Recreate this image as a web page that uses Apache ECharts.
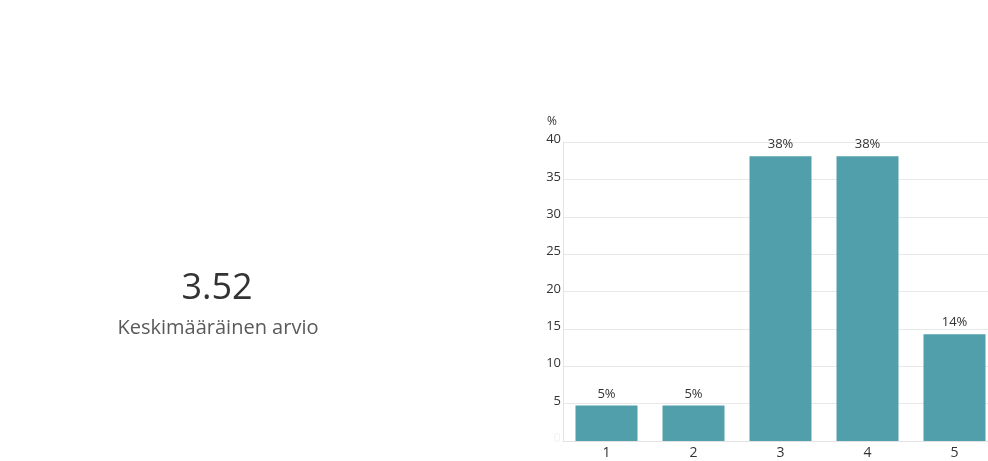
<!DOCTYPE html>
<html>
<head>
<meta charset="utf-8">
<script src="https://cdn.jsdelivr.net/npm/echarts@6/dist/echarts.min.js"></script>
<style>
  html, body { margin: 0; padding: 0; background: #fff; }
  #chart { width: 988px; height: 461px; }
</style>
</head>
<body>
<div id="chart"></div>
<script>
// Rating scale 1–5 and the share of answers for each rating (%)
const ratings = ['1', '2', '3', '4', '5'];
const shares = [4.76, 4.76, 38.1, 38.1, 14.29];
const averageValue = '3.52';
const averageLabel = 'Keskimääräinen arvio';
const yTicks = [0, 5, 10, 15, 20, 25, 30, 35, 40];

const font = '"Open Sans", "Noto Sans", sans-serif';
const chart = echarts.init(document.getElementById('chart'), null, { renderer: 'canvas' });

chart.setOption({
  animation: false,
  backgroundColor: '#ffffff',
  title: [
    {
      text: averageValue,
      left: 212, top: 266, textAlign: 'center',
      textStyle: { fontFamily: font, fontSize: 36, fontWeight: 'normal', color: '#333333' }
    },
    {
      text: averageLabel,
      left: 213, top: 313, textAlign: 'center',
      textStyle: { fontFamily: font, fontSize: 20, fontWeight: 'normal', color: '#5a5a5a' }
    }
  ],
  grid: { left: 563, top: 142, width: 435, height: 299, outerBoundsMode: 'none', containLabel: false },
  xAxis: {
    type: 'category',
    data: ratings,
    axisLine: { show: true, lineStyle: { color: '#e3e3e3', width: 1 } },
    axisTick: { show: false },
    axisLabel: { fontFamily: font, fontSize: 14, color: '#333333', margin: 5 }
  },
  yAxis: {
    type: 'value',
    min: yTicks[0], max: yTicks[yTicks.length - 1], interval: 5,
    name: '%',
    nameLocation: 'end',
    nameGap: 14,
    nameTextStyle: { fontFamily: font, fontSize: 12, color: '#333333', align: 'right', padding: [0, 6, 0, 0] },
    axisLine: { show: true, lineStyle: { color: '#e3e3e3', width: 1 } },
    axisTick: { show: false },
    splitLine: { show: true, lineStyle: { color: '#e8e8e8', width: 1 } },
    axisLabel: {
      fontFamily: font, fontSize: 13, margin: 2,
      verticalAlign: 'bottom', padding: [0, 0, -4, 0],
      color: function (v) { return Number(v) === 0 ? '#f2f2f2' : '#333333'; }
    }
  },
  series: [{
    type: 'bar',
    data: shares,
    barWidth: 62,
    itemStyle: { color: '#519FAB' },
    label: {
      show: true,
      position: 'top',
      distance: 5,
      fontFamily: font, fontSize: 13, color: '#333333',
      formatter: function (p) { return Math.round(p.value) + '%'; }
    }
  }]
});
</script>
</body>
</html>
